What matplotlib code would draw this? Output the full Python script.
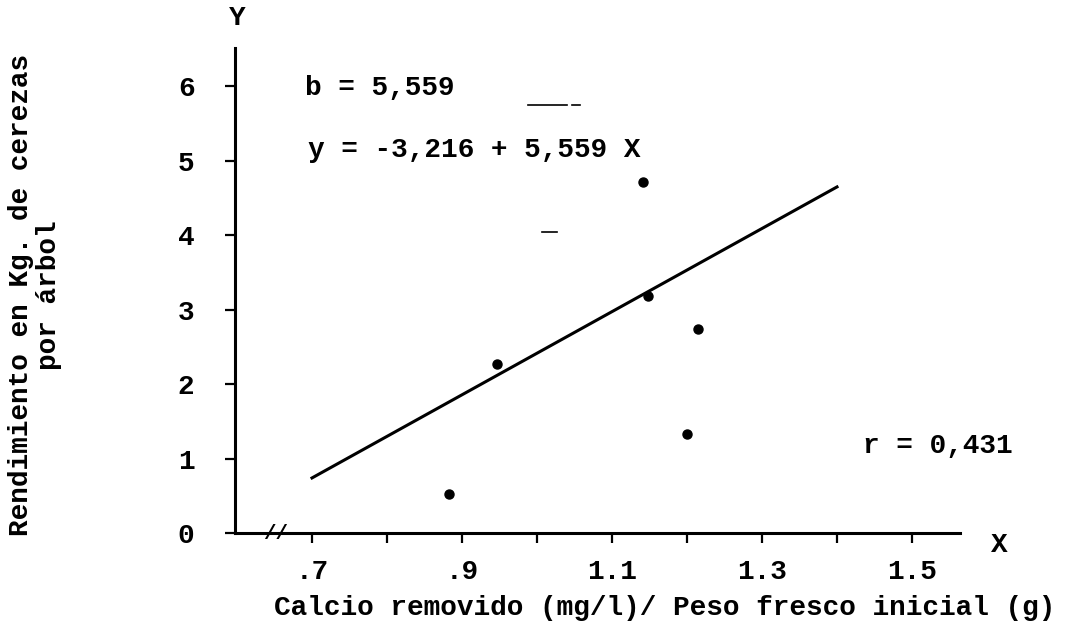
import matplotlib
matplotlib.use("Agg")
import matplotlib.pyplot as plt

# Datos
calcio = [0.882, 0.946, 1.141, 1.148, 1.200, 1.215]
rendimiento = [0.53, 2.27, 4.72, 3.19, 1.33, 2.74]

# Recta de regresión trazada (extremos)
recta_x = [0.70, 1.40]
recta_y = [0.74, 4.65]

x_ticks = [0.7, 0.8, 0.9, 1.0, 1.1, 1.2, 1.3, 1.4, 1.5]
x_labels = ['.7', '', '.9', '', '1.1', '', '1.3', '', '1.5']
y_ticks = [0, 1, 2, 3, 4, 5, 6]
y_labels = ['0', '1', '2', '3', '4', '5', '6']

# trazos sueltos del original escaneado
trazos = [([0.988, 1.040], [5.75, 5.75]), ([1.047, 1.057], [5.75, 5.75]),
          ([1.007, 1.027], [4.05, 4.05])]

plt.rcParams['font.family'] = ['Liberation Mono', 'DejaVu Sans Mono']
plt.rcParams['font.weight'] = 'bold'

fig = plt.figure(figsize=(10.68, 6.36), dpi=100)
W, H = 1068, 636
# ejes colocados para que 0.7 caiga en x=312 px y 0 en y=533 px
ax = fig.add_axes([199.5 / W, (636 - 562.8) / H, 825 / W, 550.8 / H])
ax.set_xlim(0.55, 1.65)
ax.set_ylim(-0.4, 7.0)
ax.patch.set_alpha(0)

ax.spines['top'].set_visible(False)
ax.spines['right'].set_visible(False)
ax.spines['left'].set_position(('data', 0.597))
ax.spines['bottom'].set_position(('data', 0))
ax.spines['left'].set_bounds(0, 6.52)
ax.spines['bottom'].set_bounds(0.597, 1.564)
for s in ['left', 'bottom']:
    ax.spines[s].set_linewidth(2.2)

ax.set_xticks(x_ticks)
ax.set_xticklabels(x_labels)
ax.set_yticks(y_ticks)
ax.set_yticklabels(y_labels)
ax.tick_params(axis='x', direction='out', length=7, width=1.6, pad=12, labelsize=20)
ax.tick_params(axis='y', direction='out', length=7, width=1.6, pad=22, labelsize=20)

ax.plot(calcio, rendimiento, 'o', color='black', markersize=6.5)
ax.plot(recta_x, recta_y, color='black', linewidth=2.2)
for tx, ty in trazos:
    ax.plot(tx, ty, color='black', linewidth=1.2)

ax.text(0.691, 5.89, 'b = 5,559', fontsize=20, va='baseline', ha='left')
ax.text(0.695, 5.05, 'y = -3,216 + 5,559 X', fontsize=20, va='baseline', ha='left')
ax.text(1.435, 1.075, 'r = 0,431', fontsize=20, va='baseline', ha='left')
ax.text(1.617, -0.16, 'X', fontsize=20, ha='center', va='center')
ax.text(0.600, 6.92, 'Y', fontsize=20, ha='center', va='center')
ax.text(0.651, 0.0, '//', fontsize=15, ha='center', va='center')

fig.text(665 / W, 1 - 608 / H, 'Calcio removido (mg/l)/ Peso fresco inicial (g)',
         fontsize=20, ha='center', va='center')
fig.text(35 / W, 1 - 295 / H, 'Rendimiento en Kg. de cerezas\npor árbol',
         fontsize=20, rotation=90, ha='center', va='center',
         multialignment='center', linespacing=1.1)

fig.savefig('out.png', dpi=100)
